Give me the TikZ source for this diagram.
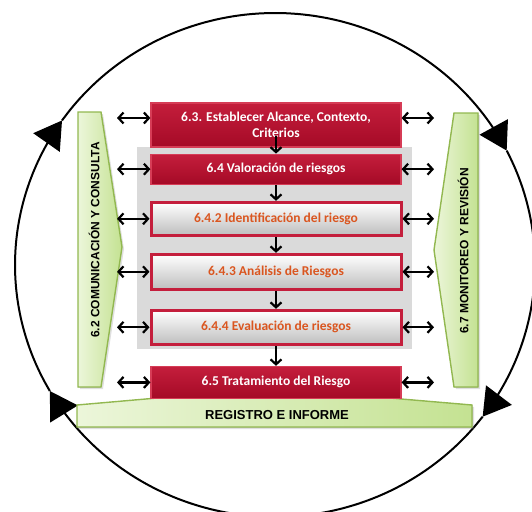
\documentclass[tikz,border=0pt]{standalone}
\usepackage{fontspec}
\setmainfont{Carlito}
\newfontfamily\arialfont{Liberation Sans}
\usepackage{xcolor}
\usetikzlibrary{arrows.meta, positioning, calc, shadows}

\definecolor{rojo}{RGB}{165,10,38}
\definecolor{rojoclaro}{RGB}{196,30,60}
\definecolor{rojoborde}{RGB}{214,60,86}
\definecolor{naranja}{RGB}{218,86,32}
\definecolor{gris}{RGB}{190,190,190}
\definecolor{fondo}{RGB}{218,218,218}
\definecolor{verdeborde}{RGB}{146,184,80}
\definecolor{verdeclaro}{RGB}{236,246,218}
\definecolor{verde}{RGB}{196,226,146}

\begin{document}
\begin{tikzpicture}[
	  x=1pt, y=-1pt,
	  font=\fontsize{13.5}{16}\selectfont\bfseries,
	  caja/.style={
	    rectangle,
	    align=center,
	    minimum width=250pt,
	    inner sep=2pt
	  },
	  oscura/.style={caja, draw=rojoborde, line width=1.2pt, top color=rojoclaro, bottom color=rojo, text=white},
	  clara/.style={caja, draw=rojoclaro, line width=3pt, top color=white, bottom color=gris, text=naranja},
	  panel/.style={draw=verdeborde, line width=1.4pt, left color=verdeclaro, right color=verde,
	    drop shadow={opacity=0.25, shadow xshift=2pt, shadow yshift=-2pt}},
	  etiqueta/.style={font=\arialfont\bfseries\fontsize{12}{14}\selectfont},
	  flecha/.style={-{Straight Barb[length=5pt,width=11pt]}, line width=2.2pt},
	  dflecha/.style={{Straight Barb[length=5pt,width=11pt]}-{Straight Barb[length=5pt,width=11pt]}, line width=2.2pt},
	  giro/.style={line width=2pt, -{Triangle[length=27pt,width=32pt]}}
	]
	\useasboundingbox (0,0) rectangle (532,511);
	
	% ciclo exterior
	\draw[giro] plot[domain=150:215, samples=30, smooth, variable=\t] ({275+260*cos(\t)},{265+252*sin(\t)});
	\draw[giro] plot[domain=215:333, samples=40, smooth, variable=\t] ({275+260*cos(\t)},{265+252*sin(\t)});
	\draw[giro] plot[domain=333:397, samples=30, smooth, variable=\t] ({275+260*cos(\t)},{265+252*sin(\t)});
	\draw[giro] plot[domain=397:510, samples=40, smooth, variable=\t] ({275+260*cos(\t)},{265+252*sin(\t)});
	
	% paneles laterales
	\filldraw[panel] (78,112) -- (101,112) -- (122,247) -- (101,387) -- (78,387) -- cycle;
	\node[etiqueta, rotate=90] (comunic) at (94,240) {6.2 COMUNICACIÓN Y CONSULTA};
	\filldraw[panel] (478,113) -- (454,113) -- (434,250) -- (454,387) -- (478,387) -- cycle;
	\node[etiqueta, rotate=90] (monitor) at (463,251) {6.7 MONITOREO Y REVISIÓN};
	\filldraw[panel] (77,427) -- (77,405) -- (272,388) -- (472,405) -- (472,427) -- cycle;
	\node[etiqueta, font=\arialfont\bfseries\fontsize{13}{15}\selectfont] (registro) at (277,415) {REGISTRO E INFORME};
	
	% valoracion
	\fill[fondo] (137,147) rectangle (412,349);
	
	\node[oscura, minimum height=44pt] (c63) at (276,125) {6.3. Establecer Alcance, Contexto,\\Criterios};
	\node[oscura, minimum height=30pt, below=6pt of c63] (c64) {6.4 Valoración de riesgos};
	\node[clara, minimum height=33pt, below=16pt of c64] (c642) {6.4.2 Identificación del riesgo};
	\node[clara, minimum height=35pt, below=16pt of c642] (c643) {6.4.3 Análisis de Riesgos};
	\node[clara, minimum height=34pt, below=18pt of c643] (c644) {6.4.4 Evaluación de riesgos};
	\node[oscura, minimum height=32pt, below=20pt of c644] (c65) {6.5 Tratamiento del Riesgo};
	
	\draw[flecha] ([yshift=12pt]c63.south) -- (c64);
	\draw[flecha] (c64) -- (c642);
	\draw[flecha] (c642) -- (c643);
	\draw[flecha] (c643) -- (c644);
	\draw[flecha] (c644) -- (c65);
	
	% comunicacion con los paneles
	\coordinate (izq) at (117,0);
	\coordinate (der) at (434,0);
	\coordinate (c63o) at ([yshift=7pt]c63.west);
	\coordinate (c63e) at ([yshift=7pt]c63.east);
	\draw[dflecha] (izq |- c63o) -- (c63o);
	\draw[dflecha] (c63e) -- (der |- c63e);
	\foreach \n in {c64,c642,c643,c644,c65}{
	  \draw[dflecha] (izq |- \n.west) -- (\n.west);
	  \draw[dflecha] (\n.east) -- (der |- \n.east);
	}
	
	\end{tikzpicture}
\end{document}
